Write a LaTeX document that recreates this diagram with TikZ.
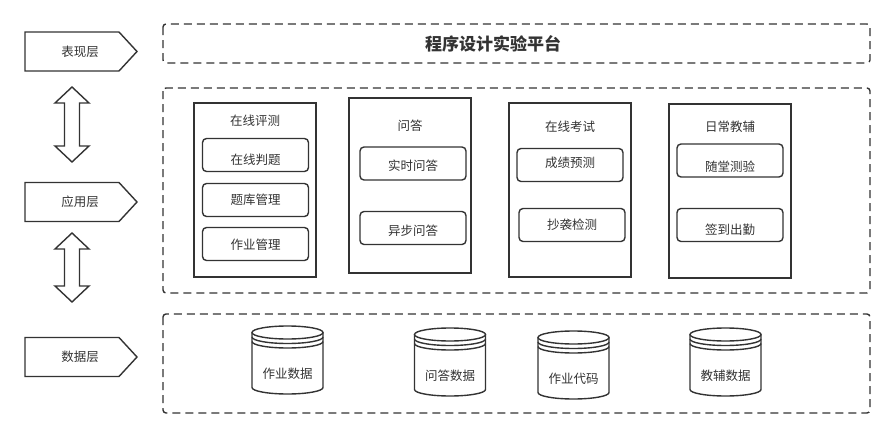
\documentclass[tikz,border=0pt]{standalone}
\usepackage{fontspec}
\setmainfont{Noto Sans CJK SC}
\usepackage{xcolor}
\usetikzlibrary{positioning}
\definecolor{ink}{HTML}{333333}

\begin{document}
\begin{tikzpicture}[x=1pt,y=1pt,
    every node/.style={text=ink,font=\fontsize{12.5}{15}\selectfont},
    tag/.style={draw=ink,line width=1.4pt},
    layer/.style={draw=ink,line width=1.4pt,dash pattern=on 8pt off 5pt,rounded corners=3pt},
    modbox/.style={draw=ink,line width=1.4pt,minimum width=122pt,inner sep=0pt},
    subbox/.style={draw=ink,line width=1.4pt,rounded corners=4pt,minimum width=106pt,minimum height=33pt,inner sep=0pt}]
    \useasboundingbox (0,0) rectangle (895,-439);

    % layer tags on the left
    \foreach \n/\y/\t in {bx/51.5/表现层, yy/202/应用层, sj/357/数据层}{
        \draw[tag] (25,-\y+19.5) -- (119,-\y+19.5) -- (137,-\y) -- (119,-\y-19.5) -- (25,-\y-19.5) -- cycle;
        \node (\n) at (80,-\y) {\t};
    }
    \foreach \ya/\yb in {87/162, 233/302}{
        \draw[tag] (72,-\ya) -- (89,-\ya-16) -- (79.5,-\ya-16) -- (79.5,-\yb+16) -- (89,-\yb+16) -- (72,-\yb)
            -- (55,-\yb+16) -- (64.5,-\yb+16) -- (64.5,-\ya-16) -- (55,-\ya-16) -- cycle;
    }

    % dashed layers
    \draw[layer] (163,-24) rectangle (870,-63);
    \draw[layer] (163,-88) rectangle (870,-293);
    \draw[layer] (163,-314) rectangle (870,-413);
    \node[font=\bfseries\fontsize{17}{20}\selectfont] (ptitle) at (493,-44) {程序设计实验平台};

    % application modules
    \node[modbox,minimum height=174pt] (zxpc) at (255,-190) {};
    \node[modbox,minimum height=175pt] (wd) at (410,-185.5) {};
    \node[modbox,minimum height=174pt] (zxks) at (570,-190) {};
    \node[modbox,minimum height=174pt] (rcjf) at (730,-191) {};
    \node (zxpc-t) at (255,-121) {在线评测};
    \node (wd-t) at (410,-126) {问答};
    \node (zxks-t) at (570,-127) {在线考试};
    \node (rcjf-t) at (730,-127) {日常教辅};

    \foreach \n/\x/\y/\ty/\t in {zxpt/255.5/155/160/在线判题, tkgl/255.5/200/200/题库管理, zygl/255.5/244/245/作业管理,
                                 sswd/413/163.5/166/实时问答, ybwd/413/228/231/异步问答,
                                 cjyc/570/165/163/成绩预测, cxjc/572/225/225/抄袭检测,
                                 stcy/730/160.5/167/随堂测验, qdcq/730/225/230/签到出勤}{
        \node[subbox] (\n) at (\x,-\y) {};
        \node (\n-t) at (\x,-\ty) {\t};
    }

    % data stores
    \foreach \n/\cx/\ty/\t in {zysj/287.5/326/作业数据, wdsj/450/328/问答数据, zydm/573.5/331/作业代码, jfsj/725.5/328/教辅数据}{
        \draw[tag] (\cx-35.5,-\ty-6.5) -- (\cx-35.5,-\ty-61.5) arc[start angle=180,end angle=360,x radius=35.5,y radius=6.5] -- (\cx+35.5,-\ty-6.5);
        \draw[tag] (\cx,-\ty-6.5) ellipse[x radius=35.5,y radius=6.5];
        \draw[tag] (\cx-35.5,-\ty-11) arc[start angle=180,end angle=360,x radius=35.5,y radius=6.5];
        \draw[tag] (\cx-35.5,-\ty-15.5) arc[start angle=180,end angle=360,x radius=35.5,y radius=6.5];
        \node (\n) at (\cx,-\ty-48) {\t};
    }
\end{tikzpicture}
\end{document}
